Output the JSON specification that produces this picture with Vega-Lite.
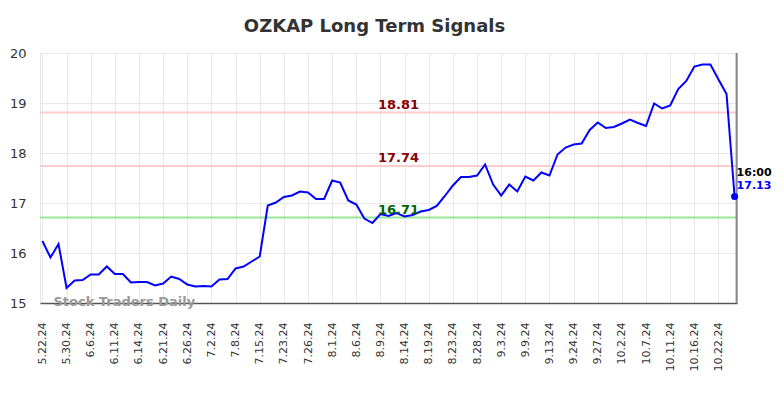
{
  "$schema": "https://vega.github.io/schema/vega-lite/v6.json",
  "width": 697,
  "height": 250,
  "autosize": {"type": "none"},
  "padding": {"left": 40, "top": 53, "right": 47, "bottom": 95},
  "background": "white",
  "config": {
    "font": "DejaVu Sans",
    "view": {"stroke": "#e8e8e8"},
    "axis": {"gridColor": "#e8e8e8", "gridWidth": 1, "labelColor": "#333", "labelFont": "DejaVu Sans"}
  },
  "title": {"text": "OZKAP Long Term Signals", "fontSize": 18, "fontWeight": "bold", "color": "#333", "offset": 11, "dx": -14, "font": "DejaVu Sans"},
  "resolve": {"scale": {"color": "independent"}},
  "datasets": {
    "prices": [
      {"date": "5.22.24", "price": 16.24}, {"date": "5.23.24", "price": 15.91}, {"date": "5.24.24", "price": 16.18},
      {"date": "5.30.24", "price": 15.30}, {"date": "5.31.24", "price": 15.45}, {"date": "6.3.24", "price": 15.46},
      {"date": "6.6.24", "price": 15.57}, {"date": "6.7.24", "price": 15.57}, {"date": "6.10.24", "price": 15.73},
      {"date": "6.11.24", "price": 15.58}, {"date": "6.12.24", "price": 15.58}, {"date": "6.13.24", "price": 15.41},
      {"date": "6.14.24", "price": 15.42}, {"date": "6.17.24", "price": 15.42}, {"date": "6.18.24", "price": 15.35},
      {"date": "6.21.24", "price": 15.39}, {"date": "6.24.24", "price": 15.53}, {"date": "6.25.24", "price": 15.48},
      {"date": "6.26.24", "price": 15.37}, {"date": "6.27.24", "price": 15.33}, {"date": "6.28.24", "price": 15.34},
      {"date": "7.2.24", "price": 15.33}, {"date": "7.3.24", "price": 15.47}, {"date": "7.5.24", "price": 15.48},
      {"date": "7.8.24", "price": 15.69}, {"date": "7.9.24", "price": 15.73}, {"date": "7.10.24", "price": 15.83},
      {"date": "7.15.24", "price": 15.93}, {"date": "7.16.24", "price": 16.95}, {"date": "7.22.24", "price": 17.01},
      {"date": "7.23.24", "price": 17.12}, {"date": "7.24.24", "price": 17.15}, {"date": "7.25.24", "price": 17.23},
      {"date": "7.26.24", "price": 17.21}, {"date": "7.29.24", "price": 17.08}, {"date": "7.31.24", "price": 17.08},
      {"date": "8.1.24", "price": 17.45}, {"date": "8.2.24", "price": 17.41}, {"date": "8.5.24", "price": 17.05},
      {"date": "8.6.24", "price": 16.97}, {"date": "8.7.24", "price": 16.69}, {"date": "8.8.24", "price": 16.60},
      {"date": "8.9.24", "price": 16.78}, {"date": "8.12.24", "price": 16.74}, {"date": "8.13.24", "price": 16.80},
      {"date": "8.14.24", "price": 16.73}, {"date": "8.15.24", "price": 16.76}, {"date": "8.16.24", "price": 16.83},
      {"date": "8.19.24", "price": 16.86}, {"date": "8.20.24", "price": 16.94}, {"date": "8.21.24", "price": 17.14},
      {"date": "8.23.24", "price": 17.35}, {"date": "8.26.24", "price": 17.52}, {"date": "8.27.24", "price": 17.52},
      {"date": "8.28.24", "price": 17.55}, {"date": "8.29.24", "price": 17.77}, {"date": "8.30.24", "price": 17.37},
      {"date": "9.3.24", "price": 17.15}, {"date": "9.4.24", "price": 17.37}, {"date": "9.6.24", "price": 17.23},
      {"date": "9.9.24", "price": 17.53}, {"date": "9.10.24", "price": 17.45}, {"date": "9.11.24", "price": 17.61},
      {"date": "9.13.24", "price": 17.55}, {"date": "9.16.24", "price": 17.97}, {"date": "9.23.24", "price": 18.11},
      {"date": "9.24.24", "price": 18.17}, {"date": "9.25.24", "price": 18.19}, {"date": "9.26.24", "price": 18.46},
      {"date": "9.27.24", "price": 18.61}, {"date": "9.30.24", "price": 18.50}, {"date": "10.1.24", "price": 18.52},
      {"date": "10.2.24", "price": 18.59}, {"date": "10.3.24", "price": 18.67}, {"date": "10.4.24", "price": 18.60},
      {"date": "10.7.24", "price": 18.54}, {"date": "10.8.24", "price": 18.99}, {"date": "10.9.24", "price": 18.89},
      {"date": "10.11.24", "price": 18.95}, {"date": "10.14.24", "price": 19.28}, {"date": "10.15.24", "price": 19.44},
      {"date": "10.16.24", "price": 19.73}, {"date": "10.17.24", "price": 19.77}, {"date": "10.18.24", "price": 19.77},
      {"date": "10.22.24", "price": 19.47}, {"date": "10.23.24", "price": 19.18}, {"date": "10.24.24", "price": 17.13}
    ],
    "levels": [
      {"level": 18.81, "label": "18.81", "kind": "resistance", "date": "8.13.24"},
      {"level": 17.74, "label": "17.74", "kind": "resistance", "date": "8.13.24"},
      {"level": 16.71, "label": "16.71", "kind": "support", "date": "8.13.24"}
    ],
    "last": [{"date": "10.24.24", "price": 17.13, "time": "16:00", "label": "17.13"}],
    "mark": [{"date": "5.22.24", "price": 15, "text": "Stock Traders Daily"}]
  },
  "layer": [
    {
      "data": {"name": "levels"},
      "mark": {"type": "rule", "strokeWidth": 2},
      "encoding": {
        "y": {"field": "level", "type": "quantitative"},
        "color": {"field": "kind", "type": "nominal", "scale": {"domain": ["resistance", "support"], "range": ["#ffcccc", "#99e699"]}, "legend": null}
      }
    },
    {
      "data": {"name": "prices"},
      "mark": {"type": "line", "color": "#0000ff", "strokeWidth": 2},
      "encoding": {
        "x": {
          "field": "date", "type": "ordinal", "sort": null,
          "scale": {"type": "point", "padding": 0.3},
          "axis": {
            "title": null,
            "values": ["5.22.24","5.30.24","6.6.24","6.11.24","6.14.24","6.21.24","6.26.24","7.2.24","7.8.24","7.15.24","7.23.24","7.26.24","8.1.24","8.6.24","8.9.24","8.14.24","8.19.24","8.23.24","8.28.24","9.3.24","9.9.24","9.13.24","9.24.24","9.27.24","10.2.24","10.7.24","10.11.24","10.16.24","10.22.24"],
            "labelAngle": -90, "labelFontSize": 11, "labelPadding": 19, "ticks": false,
            "grid": true, "domainColor": "#555", "domainWidth": 1.5
          }
        },
        "y": {
          "field": "price", "type": "quantitative",
          "scale": {"domain": [15, 20], "nice": false, "zero": false},
          "axis": {"title": null, "values": [15, 16, 17, 18, 19, 20], "labelFontSize": 13, "labelPadding": 14, "ticks": false, "domain": false, "grid": true}
        }
      }
    },
    {
      "data": {"name": "levels"},
      "mark": {"type": "text", "fontSize": 13, "fontWeight": "bold", "baseline": "bottom", "dy": -1, "dx": 2},
      "encoding": {
        "x": {"field": "date", "type": "ordinal", "sort": null},
        "y": {"field": "level", "type": "quantitative"},
        "text": {"field": "label"},
        "color": {"field": "kind", "type": "nominal", "scale": {"domain": ["resistance", "support"], "range": ["#8b0000", "#006400"]}, "legend": null}
      }
    },
    {
      "data": {"name": "last"},
      "mark": {"type": "rule", "color": "#888", "strokeWidth": 2, "xOffset": 2},
      "encoding": {"x": {"field": "date", "type": "ordinal", "sort": null}}
    },
    {
      "data": {"name": "last"},
      "mark": {"type": "circle", "color": "#0000ff", "size": 50, "opacity": 1},
      "encoding": {
        "x": {"field": "date", "type": "ordinal", "sort": null},
        "y": {"field": "price", "type": "quantitative"}
      }
    },
    {
      "data": {"name": "last"},
      "mark": {"type": "text", "fontSize": 11, "fontWeight": "bold", "color": "#000", "align": "left", "dx": 2, "dy": -24},
      "encoding": {
        "x": {"field": "date", "type": "ordinal", "sort": null},
        "y": {"field": "price", "type": "quantitative"},
        "text": {"field": "time"}
      }
    },
    {
      "data": {"name": "last"},
      "mark": {"type": "text", "fontSize": 11, "fontWeight": "bold", "color": "#0000ff", "align": "left", "dx": 2, "dy": -11},
      "encoding": {
        "x": {"field": "date", "type": "ordinal", "sort": null},
        "y": {"field": "price", "type": "quantitative"},
        "text": {"field": "label"}
      }
    },
    {
      "data": {"name": "mark"},
      "mark": {"type": "text", "fontSize": 13, "fontWeight": "bold", "color": "#999", "align": "left", "baseline": "middle", "dx": 11, "dy": -1},
      "encoding": {
        "x": {"field": "date", "type": "ordinal", "sort": null},
        "y": {"field": "price", "type": "quantitative"},
        "text": {"field": "text"}
      }
    }
  ]
}
